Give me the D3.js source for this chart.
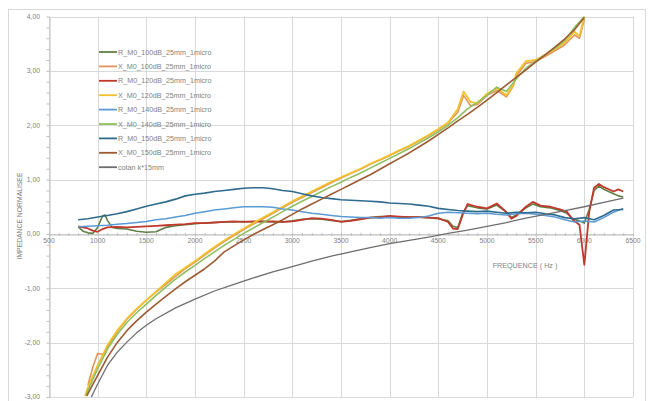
<!DOCTYPE html>
<html>
<head>
<meta charset="utf-8">
<script src="https://cdnjs.cloudflare.com/ajax/libs/d3/7.8.5/d3.min.js"></script>
<style>
  html, body { margin: 0; padding: 0; background: #ffffff; }
  svg { display: block; font-family: "Liberation Sans", Arial, sans-serif; }
</style>
</head>
<body>
<svg id="chart" width="648" height="401"></svg>
<script>
// Normalised impedance vs frequency: [frequency (Hz), value]
const R_M0_100dB = [[800,0.13],[850,0.05],[900,0.02],[950,0.01],[1000,0.12],[1050,0.33],[1075,0.35],[1100,0.25],[1150,0.12],[1200,0.10],[1300,0.09],[1400,0.05],[1500,0.03],[1600,0.04],[1650,0.08],[1700,0.12],[1800,0.15],[1900,0.17],[2000,0.19],[2100,0.20],[2200,0.21],[2300,0.22],[2400,0.22],[2500,0.23],[2600,0.22],[2700,0.23],[2800,0.22],[2900,0.22],[3000,0.24],[3100,0.27],[3200,0.28],[3300,0.27],[3400,0.25],[3500,0.23],[3600,0.25],[3700,0.28],[3800,0.30],[3900,0.32],[4000,0.32],[4100,0.31],[4200,0.31],[4300,0.31],[4400,0.30],[4500,0.28],[4600,0.24],[4650,0.14],[4700,0.12],[4750,0.38],[4800,0.52],[4900,0.48],[5000,0.46],[5100,0.53],[5200,0.40],[5250,0.30],[5300,0.35],[5400,0.48],[5470,0.55],[5550,0.50],[5650,0.48],[5750,0.43],[5820,0.38],[5880,0.28],[5950,0.24],[6000,0.20],[6050,0.45],[6100,0.80],[6150,0.88],[6200,0.82],[6300,0.74],[6350,0.70],[6400,0.68]];

const X_M0_100dB = [[900,-2.78],[950,-2.45],[1000,-2.20],[1075,-2.22],[1100,-2.08],[1200,-1.80],[1300,-1.57],[1400,-1.39],[1500,-1.22],[1600,-1.07],[1700,-0.93],[1800,-0.78],[1900,-0.64],[2000,-0.52],[2100,-0.39],[2200,-0.26],[2300,-0.14],[2400,-0.03],[2500,0.08],[2600,0.18],[2700,0.28],[2800,0.38],[2900,0.48],[3000,0.58],[3100,0.67],[3200,0.76],[3300,0.85],[3400,0.94],[3500,1.03],[3600,1.11],[3700,1.19],[3800,1.28],[3900,1.36],[4000,1.44],[4100,1.53],[4200,1.61],[4300,1.71],[4400,1.81],[4500,1.92],[4600,2.04],[4700,2.24],[4760,2.55],[4830,2.36],[4900,2.38],[5000,2.55],[5100,2.64],[5200,2.52],[5270,2.72],[5300,2.90],[5400,3.14],[5500,3.17],[5600,3.27],[5700,3.37],[5800,3.48],[5900,3.66],[5950,3.60],[6000,3.95]];

const R_M0_120dB = [[800,0.14],[850,0.12],[900,0.10],[950,0.06],[1000,0.04],[1050,0.09],[1100,0.12],[1200,0.13],[1300,0.12],[1400,0.13],[1500,0.14],[1600,0.15],[1700,0.16],[1800,0.17],[1900,0.18],[2000,0.20],[2100,0.20],[2200,0.21],[2300,0.22],[2400,0.23],[2500,0.22],[2600,0.23],[2700,0.23],[2800,0.23],[2900,0.22],[3000,0.23],[3100,0.26],[3200,0.29],[3300,0.28],[3400,0.26],[3500,0.22],[3600,0.24],[3700,0.27],[3800,0.30],[3900,0.31],[4000,0.33],[4100,0.32],[4200,0.31],[4300,0.31],[4400,0.30],[4500,0.29],[4600,0.22],[4650,0.10],[4700,0.09],[4750,0.35],[4800,0.55],[4900,0.50],[5000,0.47],[5100,0.56],[5200,0.40],[5250,0.28],[5300,0.33],[5400,0.50],[5470,0.59],[5550,0.52],[5650,0.50],[5750,0.45],[5820,0.41],[5880,0.26],[5950,0.17],[6000,-0.57],[6050,0.40],[6100,0.85],[6150,0.92],[6200,0.86],[6300,0.78],[6350,0.82],[6400,0.78]];

const X_M0_120dB = [[870,-2.98],[900,-2.82],[1000,-2.42],[1100,-2.05],[1200,-1.78],[1300,-1.56],[1400,-1.38],[1500,-1.22],[1600,-1.06],[1700,-0.90],[1800,-0.74],[1900,-0.62],[2000,-0.50],[2100,-0.37],[2200,-0.24],[2300,-0.12],[2400,-0.01],[2500,0.10],[2600,0.20],[2700,0.30],[2800,0.40],[2900,0.50],[3000,0.60],[3100,0.69],[3200,0.78],[3300,0.87],[3400,0.96],[3500,1.04],[3600,1.12],[3700,1.20],[3800,1.29],[3900,1.37],[4000,1.45],[4100,1.54],[4200,1.62],[4300,1.72],[4400,1.82],[4500,1.93],[4600,2.05],[4700,2.30],[4760,2.62],[4830,2.43],[4900,2.40],[5000,2.58],[5100,2.68],[5200,2.55],[5270,2.74],[5300,2.95],[5400,3.18],[5500,3.20],[5600,3.30],[5700,3.40],[5800,3.52],[5900,3.72],[5950,3.64],[6000,4.00]];

const R_M0_140dB = [[800,0.13],[900,0.14],[1000,0.15],[1100,0.16],[1200,0.18],[1300,0.19],[1400,0.21],[1500,0.23],[1600,0.26],[1700,0.28],[1800,0.31],[1900,0.34],[2000,0.38],[2100,0.41],[2200,0.44],[2300,0.46],[2400,0.48],[2500,0.50],[2600,0.50],[2700,0.50],[2800,0.49],[2900,0.46],[3000,0.44],[3100,0.41],[3200,0.38],[3300,0.36],[3400,0.34],[3500,0.32],[3600,0.31],[3700,0.30],[3800,0.30],[3900,0.29],[4000,0.30],[4100,0.29],[4200,0.29],[4300,0.30],[4400,0.33],[4500,0.38],[4600,0.40],[4700,0.39],[4800,0.38],[4900,0.37],[5000,0.38],[5100,0.36],[5200,0.35],[5300,0.37],[5400,0.38],[5500,0.36],[5600,0.34],[5700,0.31],[5800,0.26],[5900,0.22],[6000,0.24],[6100,0.22],[6200,0.30],[6300,0.40],[6400,0.47]];

const X_M0_140dB = [[880,-2.98],[900,-2.88],[1000,-2.48],[1100,-2.12],[1200,-1.85],[1300,-1.63],[1400,-1.45],[1500,-1.29],[1600,-1.13],[1700,-0.98],[1800,-0.83],[1900,-0.70],[2000,-0.58],[2100,-0.45],[2200,-0.33],[2300,-0.21],[2400,-0.10],[2500,0.01],[2600,0.11],[2700,0.21],[2800,0.31],[2900,0.41],[3000,0.51],[3100,0.60],[3200,0.69],[3300,0.78],[3400,0.87],[3500,0.95],[3600,1.04],[3700,1.12],[3800,1.21],[3900,1.30],[4000,1.39],[4100,1.48],[4200,1.57],[4300,1.67],[4400,1.77],[4500,1.88],[4600,2.00],[4700,2.14],[4800,2.30],[4900,2.42],[5000,2.55],[5100,2.70],[5200,2.62],[5300,2.85],[5400,3.05],[5500,3.18],[5600,3.30],[5700,3.42],[5800,3.56],[5900,3.80],[6000,4.00]];

const R_M0_150dB = [[800,0.26],[900,0.28],[1000,0.31],[1100,0.34],[1200,0.37],[1300,0.41],[1400,0.46],[1500,0.51],[1600,0.55],[1700,0.59],[1800,0.64],[1900,0.70],[2000,0.73],[2100,0.75],[2200,0.78],[2300,0.80],[2400,0.82],[2500,0.84],[2600,0.85],[2700,0.85],[2800,0.83],[2900,0.80],[3000,0.78],[3100,0.74],[3200,0.70],[3300,0.67],[3400,0.65],[3500,0.63],[3600,0.62],[3700,0.61],[3800,0.60],[3900,0.59],[4000,0.57],[4100,0.56],[4200,0.55],[4300,0.53],[4400,0.51],[4500,0.47],[4600,0.45],[4700,0.43],[4800,0.42],[4900,0.41],[5000,0.42],[5100,0.40],[5200,0.38],[5300,0.40],[5400,0.39],[5500,0.40],[5600,0.37],[5700,0.35],[5800,0.30],[5900,0.28],[6000,0.30],[6100,0.26],[6200,0.34],[6300,0.44],[6400,0.45]];

const X_M0_150dB = [[890,-2.98],[900,-2.94],[1000,-2.60],[1100,-2.27],[1200,-2.00],[1300,-1.78],[1400,-1.60],[1500,-1.44],[1600,-1.29],[1700,-1.15],[1800,-1.01],[1900,-0.88],[2000,-0.76],[2100,-0.64],[2200,-0.50],[2300,-0.33],[2400,-0.22],[2500,-0.11],[2600,-0.01],[2700,0.08],[2800,0.17],[2900,0.26],[3000,0.36],[3100,0.46],[3200,0.55],[3300,0.64],[3400,0.73],[3500,0.82],[3600,0.91],[3700,1.00],[3800,1.09],[3900,1.19],[4000,1.29],[4100,1.39],[4200,1.49],[4300,1.60],[4400,1.71],[4500,1.83],[4600,1.95],[4700,2.08],[4800,2.20],[4900,2.33],[5000,2.46],[5100,2.60],[5200,2.74],[5300,2.88],[5400,3.02],[5500,3.16],[5600,3.30],[5700,3.44],[5800,3.59],[5900,3.76],[6000,3.98]];

const cotan_k15mm = [[935,-3.00],[1000,-2.76],[1100,-2.42],[1200,-2.18],[1300,-1.99],[1400,-1.82],[1500,-1.68],[1600,-1.56],[1800,-1.36],[2000,-1.20],[2200,-1.05],[2400,-0.93],[2600,-0.81],[2800,-0.70],[3000,-0.60],[3200,-0.50],[3400,-0.41],[3600,-0.33],[3800,-0.25],[4000,-0.18],[4200,-0.12],[4400,-0.06],[4600,0.01],[4800,0.07],[5000,0.14],[5200,0.21],[5400,0.29],[5600,0.36],[5800,0.43],[6000,0.50],[6200,0.58],[6400,0.66]];

const seriesNames = [
  "R_M0_100dB_25mm_1micro", "X_M0_100dB_25mm_1micro",
  "R_M0_120dB_25mm_1micro", "X_M0_120dB_25mm_1micro",
  "R_M0_140dB_25mm_1micro", "X_M0_140dB_25mm_1micro",
  "R_M0_150dB_25mm_1micro", "X_M0_150dB_25mm_1micro",
  "cotan k*15mm"
];
const seriesData = [R_M0_100dB, X_M0_100dB, R_M0_120dB, X_M0_120dB,
  R_M0_140dB, X_M0_140dB, R_M0_150dB, X_M0_150dB, cotan_k15mm];
const seriesColors = ["#5e7f45", "#e0955a", "#c0392b", "#f2c12e",
  "#5b9bd5", "#8fbf5f", "#2e6b8f", "#9c5b32", "#6e6e6e"];
const seriesWidths = [1.6, 1.6, 1.8, 1.8, 1.5, 1.6, 1.6, 1.6, 1.3];

const xTicks = [500, 1000, 1500, 2000, 2500, 3000, 3500, 4000, 4500, 5000, 5500, 6000, 6500];
const yTicks = [-3, -2, -1, 0, 1, 2, 3, 4];

const svg = d3.select("#chart");
const plotLeft = 49, plotRight = 633, plotTop = 16.5, plotBottom = 397;

const x = d3.scaleLinear().domain([500, 6500]).range([plotLeft, plotRight]);
const y = d3.scaleLinear().domain([-3, 4]).range([plotBottom, plotTop]);

// outer chart frame
svg.append("rect")
  .attr("x", 8.5).attr("y", 9.5).attr("width", 637).attr("height", 400)
  .attr("fill", "none").attr("stroke", "#d9d9d9");

// gridlines
const grid = svg.append("g").attr("stroke", "#d9d9d9").attr("stroke-width", 1);
grid.selectAll("line.h").data(yTicks).join("line").attr("class", "h")
  .attr("x1", plotLeft).attr("x2", plotRight)
  .attr("y1", d => Math.round(y(d)) + 0.5).attr("y2", d => Math.round(y(d)) + 0.5);
grid.selectAll("line.v").data(xTicks).join("line").attr("class", "v")
  .attr("y1", plotTop).attr("y2", plotBottom)
  .attr("x1", d => Math.round(x(d)) + 0.5).attr("x2", d => Math.round(x(d)) + 0.5);

// y axis on the left edge, with minor ticks
const yAxis = d3.axisLeft(y).tickValues(d3.range(-3, 4.001, 0.2)).tickSize(3)
  .tickSizeOuter(0).tickFormat("");
const gy = svg.append("g").attr("transform", `translate(${plotLeft + 0.5},0)`).call(yAxis);
gy.select(".domain").attr("stroke", "#bfbfbf");
gy.selectAll(".tick line").attr("stroke", "#bfbfbf");

const fmt = d => d3.format(".2f")(d).replace(".", ",").replace("\u2212", "-");
svg.append("g").selectAll("text").data(yTicks).join("text")
  .attr("x", 40).attr("y", d => y(d)).attr("dy", "0.35em")
  .attr("text-anchor", "end").attr("font-size", 6.8).attr("fill", "#7f7f7f")
  .text(fmt);

// x axis along the zero line, minor ticks every 100 Hz
const xAxis = d3.axisBottom(x).tickValues(d3.range(500, 6501, 100)).tickSize(3)
  .tickSizeOuter(0).tickFormat("");
const gx = svg.append("g").attr("transform", `translate(0,${Math.round(y(0)) + 0.5})`).call(xAxis);
gx.select(".domain").attr("stroke", "#bfbfbf");
gx.selectAll(".tick line").attr("stroke", "#bfbfbf").attr("transform", "translate(0,-1.5)");

svg.append("g").selectAll("text").data(xTicks).join("text")
  .attr("x", d => x(d)).attr("y", y(0) + 9)
  .attr("text-anchor", "middle").attr("font-size", 6.8).attr("fill", "#7f7f7f")
  .text(d => d);

// axis titles
svg.append("text").attr("x", 525).attr("y", 268)
  .attr("text-anchor", "middle").attr("font-size", 7.2).attr("fill", "#7f7f7f")
  .text("FREQUENCE ( Hz )");
svg.append("text")
  .attr("transform", "translate(22,216) rotate(-90)")
  .attr("text-anchor", "middle").attr("font-size", 6.8).attr("fill", "#7f7f7f")
  .text("IMPEDANCE NORMALISEE");

// series
svg.append("clipPath").attr("id", "plot-clip").append("rect")
  .attr("x", plotLeft).attr("y", plotTop).attr("width", plotRight - plotLeft).attr("height", plotBottom - plotTop);

const line = d3.line().x(d => x(d[0])).y(d => y(d[1]));
const plot = svg.append("g").attr("clip-path", "url(#plot-clip)");
plot.selectAll("path").data(seriesData).join("path")
  .attr("fill", "none")
  .attr("stroke", (d, i) => seriesColors[i])
  .attr("stroke-width", (d, i) => seriesWidths[i])
  .attr("stroke-linejoin", "round")
  .attr("d", line);

// legend
const legend = svg.append("g").attr("transform", "translate(99,52)");
const rows = legend.selectAll("g").data(seriesNames).join("g")
  .attr("transform", (d, i) => `translate(0,${i * 14.4})`);
rows.append("line").attr("x1", 0).attr("x2", 18).attr("y1", 0).attr("y2", 0)
  .attr("stroke", (d, i) => seriesColors[i]).attr("stroke-width", 1.8);
rows.append("text").attr("x", 19).attr("y", 0).attr("dy", "0.35em")
  .attr("font-size", 7.2).attr("fill", "#7f7f7f")
  .text(d => d);
</script>
</body>
</html>
